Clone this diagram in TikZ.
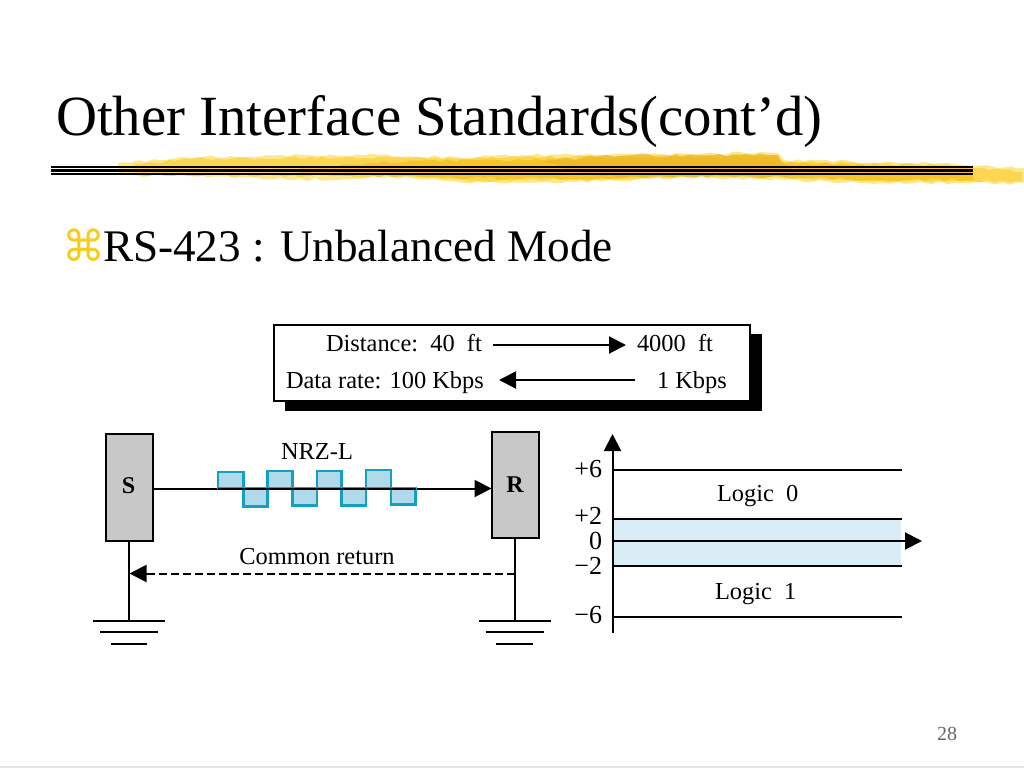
\documentclass[tikz,border=0pt]{standalone}
\usepackage{fontspec}
\setmainfont{Liberation Serif}
\newfontfamily\symfont{DejaVu Sans}
\usetikzlibrary{arrows.meta,decorations.pathmorphing}
\definecolor{brushA}{RGB}{251,214,80}
\definecolor{brushB}{RGB}{248,198,40}
\definecolor{brushC}{RGB}{254,232,140}
\definecolor{brushD}{RGB}{236,182,40}
\definecolor{boxgray}{RGB}{200,200,200}
\definecolor{wavefill}{RGB}{176,218,234}
\definecolor{waveline}{RGB}{20,160,195}
\definecolor{bandfill}{RGB}{216,237,245}
\definecolor{bulletgold}{RGB}{248,204,30}
\tikzset{
  x=1pt,y=-1pt,
  every node/.style={inner sep=0pt,outer sep=0pt},
  line/.style={line width=2pt,black},
  tip/.style={-{Triangle[length=17pt,width=17pt]}},
  bluewave/.style={line width=2.2pt,waveline,fill=wavefill,line join=miter},
  station/.style={draw=black,line width=2pt,fill=boxgray,minimum width=47pt,anchor=north west},
  lab/.style={font=\fontsize{24.4}{28}\selectfont},
  stationlabel/.style={font=\fontsize{24}{26}\selectfont\bfseries},
  axislab/.style={font=\fontsize{26}{28}\selectfont,anchor=east},
  gnd/.style={line width=2pt,black},
  rough/.style={decorate,decoration={random steps,segment length=7pt,amplitude=1.6pt}}
}
\begin{document}
\begin{tikzpicture}
\useasboundingbox (0,0) rectangle (1024,768);
\fill[white] (0,0) rectangle (1024,768);
\draw[black!10,line width=1.5pt] (0,767.2) -- (1024,767.2);
% brush stroke
\fill[brushC,rough] (118,163) -- (183,157) -- (379,155) -- (457,157) -- (523,155) -- (778,153) -- (784,160) -- (941,163) -- (1024,168) -- (1024,183) -- (882,183) -- (784,180) -- (686,177) -- (575,182) -- (484,183) -- (405,177) -- (294,180) -- (242,177) -- (118,175) -- cycle;
\fill[brushA,rough] (135,164) -- (190,159) -- (379,157) -- (457,159) -- (523,157) -- (775,155) -- (784,162) -- (940,165) -- (1022,172) -- (1022,181) -- (882,181) -- (784,178) -- (686,176) -- (575,180) -- (484,181) -- (405,176) -- (135,175) -- cycle;
\fill[brushB,rough] (300,168) -- (420,161) -- (523,160) -- (775,157) -- (784,163) -- (973,168) -- (973,180) -- (882,180) -- (784,177) -- (686,176) -- (575,179) -- (484,178) -- (300,174) -- cycle;
\fill[brushD,opacity=0.75,rough] (540,162) -- (600,156) -- (778,155) -- (782,163) -- (800,176) -- (600,176) -- cycle;
% rules
\draw[black,line width=2pt] (51,167) -- (973,167);
\draw[black,line width=3pt] (51,170.5) -- (973,170.5);
\draw[black,line width=2pt] (51,174) -- (973,174);
% title
\node[anchor=base west,font=\fontsize{56.8}{60}\selectfont] (title) at (56,135) {Other Interface Standards(cont’d)};
\node[anchor=base west,text=bulletgold,font=\fontsize{43}{48}\selectfont\symfont] (bullet) at (62,261) {⌘};
\node[anchor=base west,font=\fontsize{45.2}{50}\selectfont] (sub) at (103,261) {RS-423 : Unbalanced Mode};
\node[anchor=base east,text=black!60,font=\fontsize{20}{22}\selectfont] (page) at (957,740) {28};
% top box
\fill[black] (285,334) rectangle (762,411);
\node[draw=black,line width=2.2pt,fill=white,anchor=north west,minimum width=476pt,minimum height=76pt] (box) at (274,325) {};
\node[lab,anchor=base west] (d1) at (326,351) {Distance:\ \ 40\ \ ft};
\node[lab,anchor=base west] (d2) at (637,351) {4000\ \ ft};
\node[lab,anchor=base west] (r1) at (286,388) {Data rate: 100 Kbps};
\node[lab,anchor=base west] (r2) at (657,388) {1 Kbps};
\coordinate (da0) at (493,345);
\coordinate (da1) at (626,345);
\coordinate (ra0) at (635,380);
\coordinate (ra1) at (499,380);
\draw[line,tip] (da0) -- (da1);
\draw[line,tip] (ra0) -- (ra1);
% stations
\node[station,minimum height=107pt] (S) at (105.5,433.5) {};
\node[station,minimum height=106pt] (R) at (491.5,432) {};
\node[stationlabel] at (128.5,486) {S};
\node[stationlabel] at (515,485) {R};
\node[lab] (nrz) at (317,452) {NRZ-L};
\coordinate (wstart) at (218,488.5);
\draw[line,tip] (S.east |- wstart) -- (R.west |- wstart);
% wave
\draw[bluewave] (218,488) -- (218,472) -- (243.5,472) -- (243.5,488) -- cycle;
\draw[bluewave] (243.5,488) -- (243.5,506.5) -- (267.5,506.5) -- (267.5,488) -- cycle;
\draw[bluewave] (267.5,488) -- (267.5,471) -- (292.5,471) -- (292.5,488) -- cycle;
\draw[bluewave] (292.5,488) -- (292.5,505.5) -- (317,505.5) -- (317,488) -- cycle;
\draw[bluewave] (317,488) -- (317,471) -- (341.5,471) -- (341.5,488) -- cycle;
\draw[bluewave] (341.5,488) -- (341.5,505.5) -- (366,505.5) -- (366,488) -- cycle;
\draw[bluewave] (366,488) -- (366,470) -- (391,470) -- (391,488) -- cycle;
\draw[bluewave] (391,488) -- (391,504.5) -- (415.5,504.5) -- (415.5,488) -- cycle;
\draw[line] (218,488.5) -- (415.5,488.5);
% common return
\coordinate (gs) at (128.5,621);
\coordinate (gr) at (515,621);
\draw[line] (S.south -| gs) -- (gs);
\draw[line] (R.south -| gr) -- (gr);
\node[lab] (cr) at (317,557) {Common return};
\coordinate (crr) at (515,573.5);
\coordinate (crl) at (129.5,573.5);
\draw[line,dash pattern=on 8.5pt off 3.5pt] (crr) -- (146,573.5);
\draw[line,tip] (147,573.5) -- (crl);
% grounds
\draw[gnd] (93,621) -- (164.5,621);
\draw[gnd] (100,632) -- (158,632);
\draw[gnd] (110.5,643.5) -- (147,643.5);
\draw[gnd] (479,621) -- (550.5,621);
\draw[gnd] (485.5,632) -- (543.5,632);
\draw[gnd] (496,643.5) -- (532.5,643.5);
% graph
\fill[bandfill] (613,518) rectangle (901,566);
\coordinate (ax0) at (612.5,633);
\coordinate (ax1) at (612.5,434);
\draw[line,tip] (ax0) -- (ax1);
\draw[line] (ax0|-0,470) -- (902,470);
\draw[line] (ax0|-0,518.5) -- (902,518.5);
\draw[line,tip] (ax0|-0,541) -- (922,541);
\draw[line] (ax0|-0,566) -- (902,566);
\draw[line] (ax0|-0,616.5) -- (902,616.5);
\node[axislab] at (602,469) {+6};
\node[axislab] at (602,516) {+2};
\node[axislab] at (602,541) {0};
\node[axislab] at (602,566) {−2};
\node[axislab] at (602,615) {−6};
\node[lab,anchor=base west] at (717,501) {Logic\ \ 0};
\node[lab,anchor=base west] at (715,599) {Logic\ \ 1};
\end{tikzpicture}
\end{document}
